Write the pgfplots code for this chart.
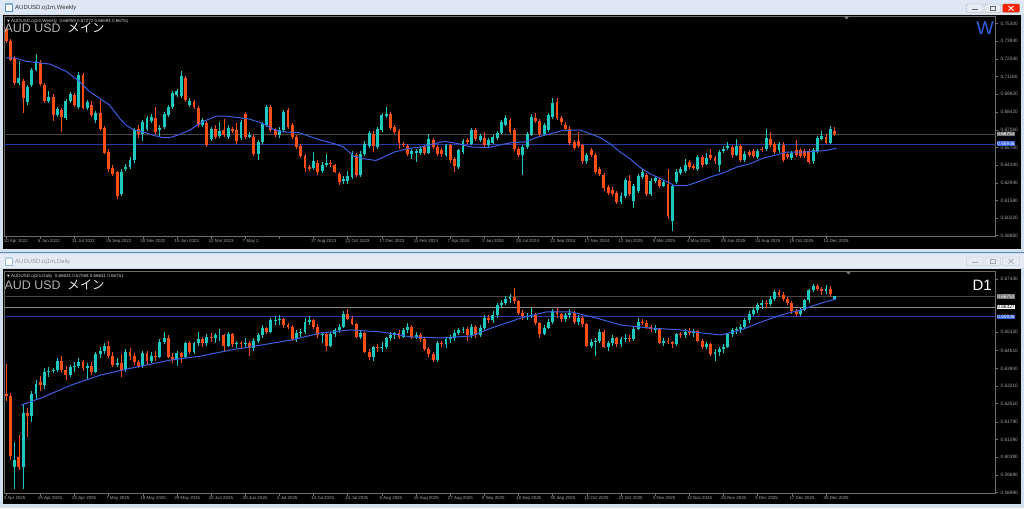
\documentclass[border=0pt]{standalone}
\usepackage{pgfplots}
\pgfplotsset{compat=1.18}
\usepackage{pgfplotstable}
\usepackage{fontspec}
\setmainfont{Liberation Sans}
\newfontfamily\jp{Noto Sans CJK JP}
\newfontfamily\dv{DejaVu Sans}
\definecolor{bull}{RGB}{30,200,190}
\definecolor{bear}{RGB}{250,78,22}
\definecolor{maline}{RGB}{60,95,225}
\definecolor{chrome}{RGB}{212,223,236}
\definecolor{titleA}{RGB}{222,232,245}
\definecolor{titleB}{RGB}{228,235,244}
\definecolor{sepblue}{RGB}{80,140,190}
\definecolor{framegray}{RGB}{110,110,110}
\definecolor{labgray}{RGB}{165,165,165}
\definecolor{hgray}{RGB}{70,70,70}
\definecolor{hblue}{RGB}{40,60,165}
\definecolor{boxblue}{RGB}{50,95,220}

\pgfplotstableread{
i o h l c
0 0.7483 0.7500 0.7380 0.7392
1 0.7397 0.7410 0.7236 0.7249
2 0.7262 0.7275 0.7050 0.7067
3 0.7067 0.7236 0.7054 0.7106
4 0.7080 0.7100 0.6833 0.6950
5 0.6919 0.7055 0.6900 0.7041
6 0.7054 0.7185 0.7040 0.7171
7 0.7171 0.7293 0.7160 0.7236
8 0.7223 0.7250 0.7045 0.7059
9 0.7054 0.7065 0.6915 0.6929
10 0.6929 0.7007 0.6915 0.6963
11 0.6963 0.6980 0.6773 0.6820
12 0.6820 0.6880 0.6805 0.6864
13 0.6859 0.6875 0.6690 0.6807
14 0.6794 0.6945 0.6780 0.6929
15 0.6929 0.7000 0.6915 0.6981
16 0.6976 0.6990 0.6885 0.6898
17 0.6885 0.7150 0.6870 0.7132
18 0.7132 0.7145 0.6865 0.6877
19 0.6872 0.6935 0.6860 0.6919
20 0.6898 0.6930 0.6805 0.6820
21 0.6781 0.6850 0.6760 0.6833
22 0.6838 0.6937 0.6700 0.6716
23 0.6721 0.6735 0.6515 0.6529
24 0.6534 0.6560 0.6380 0.6399
25 0.6409 0.6430 0.6350 0.6365
26 0.6378 0.6390 0.6170 0.6196
27 0.6209 0.6400 0.6195 0.6378
28 0.6399 0.6440 0.6385 0.6417
29 0.6417 0.6495 0.6400 0.6469
30 0.6469 0.6720 0.6450 0.6703
31 0.6716 0.6740 0.6640 0.6672
32 0.6672 0.6780 0.6620 0.6763
33 0.6716 0.6815 0.6700 0.6799
34 0.6773 0.6830 0.6760 0.6807
35 0.6799 0.6880 0.6675 0.6690
36 0.6703 0.6740 0.6660 0.6721
37 0.6729 0.6840 0.6715 0.6825
38 0.6820 0.6900 0.6805 0.6885
39 0.6885 0.7005 0.6870 0.6989
40 0.6976 0.7020 0.6960 0.7007
41 0.6968 0.7158 0.6955 0.7119
42 0.7106 0.7120 0.6920 0.6937
43 0.6898 0.6950 0.6885 0.6929
44 0.6924 0.6940 0.6870 0.6885
45 0.6872 0.6890 0.6725 0.6742
46 0.6742 0.6800 0.6730 0.6781
47 0.6755 0.6775 0.6575 0.6591
48 0.6638 0.6730 0.6620 0.6711
49 0.6716 0.6740 0.6635 0.6651
50 0.6659 0.6770 0.6645 0.6695
51 0.6703 0.6790 0.6650 0.6664
52 0.6651 0.6740 0.6635 0.6721
53 0.6711 0.6730 0.6680 0.6695
54 0.6703 0.6760 0.6600 0.6617
55 0.6643 0.6780 0.6630 0.6763
56 0.6825 0.6840 0.6635 0.6651
57 0.6651 0.6690 0.6640 0.6664
58 0.6651 0.6665 0.6505 0.6521
59 0.6521 0.6630 0.6469 0.6612
60 0.6612 0.6770 0.6600 0.6752
61 0.6742 0.6900 0.6730 0.6885
62 0.6885 0.6900 0.6690 0.6703
63 0.6703 0.6720 0.6650 0.6669
64 0.6669 0.6725 0.6640 0.6708
65 0.6703 0.6860 0.6690 0.6846
66 0.6859 0.6875 0.6715 0.6729
67 0.6742 0.6760 0.6635 0.6651
68 0.6651 0.6665 0.6555 0.6573
69 0.6581 0.6600 0.6490 0.6503
70 0.6503 0.6520 0.6378 0.6409
71 0.6417 0.6430 0.6390 0.6404
72 0.6409 0.6534 0.6395 0.6461
73 0.6451 0.6470 0.6360 0.6378
74 0.6391 0.6460 0.6375 0.6435
75 0.6435 0.6520 0.6420 0.6451
76 0.6448 0.6470 0.6420 0.6443
77 0.6430 0.6445 0.6370 0.6383
78 0.6365 0.6380 0.6280 0.6300
79 0.6308 0.6345 0.6290 0.6326
80 0.6313 0.6391 0.6290 0.6347
81 0.6339 0.6540 0.6325 0.6521
82 0.6513 0.6530 0.6340 0.6357
83 0.6357 0.6540 0.6340 0.6521
84 0.6521 0.6620 0.6505 0.6599
85 0.6581 0.6700 0.6565 0.6685
86 0.6677 0.6695 0.6534 0.6578
87 0.6573 0.6730 0.6560 0.6716
88 0.6703 0.6835 0.6690 0.6820
89 0.6815 0.6885 0.6800 0.6825
90 0.6825 0.6840 0.6705 0.6721
91 0.6729 0.6745 0.6675 0.6690
92 0.6695 0.6710 0.6560 0.6604
93 0.6599 0.6615 0.6570 0.6586
94 0.6581 0.6600 0.6505 0.6521
95 0.6521 0.6560 0.6482 0.6539
96 0.6529 0.6560 0.6456 0.6539
97 0.6529 0.6580 0.6510 0.6560
98 0.6573 0.6590 0.6510 0.6529
99 0.6529 0.6677 0.6515 0.6633
100 0.6625 0.6640 0.6555 0.6573
101 0.6573 0.6590 0.6505 0.6521
102 0.6547 0.6565 0.6495 0.6521
103 0.6513 0.6600 0.6495 0.6586
104 0.6586 0.6600 0.6450 0.6469
105 0.6477 0.6495 0.6378 0.6425
106 0.6417 0.6560 0.6400 0.6547
107 0.6534 0.6635 0.6520 0.6617
108 0.6625 0.6645 0.6595 0.6612
109 0.6599 0.6720 0.6585 0.6703
110 0.6703 0.6720 0.6620 0.6638
111 0.6625 0.6675 0.6610 0.6659
112 0.6643 0.6690 0.6575 0.6591
113 0.6591 0.6640 0.6575 0.6625
114 0.6607 0.6665 0.6595 0.6651
115 0.6643 0.6700 0.6630 0.6685
116 0.6685 0.6780 0.6670 0.6763
117 0.6747 0.6820 0.6735 0.6794
118 0.6781 0.6800 0.6675 0.6690
119 0.6703 0.6720 0.6540 0.6555
120 0.6560 0.6575 0.6495 0.6513
121 0.6508 0.6590 0.6357 0.6573
122 0.6573 0.6690 0.6560 0.6677
123 0.6669 0.6825 0.6655 0.6807
124 0.6794 0.6833 0.6760 0.6773
125 0.6773 0.6790 0.6660 0.6677
126 0.6677 0.6760 0.6660 0.6742
127 0.6703 0.6835 0.6690 0.6820
128 0.6807 0.6950 0.6790 0.6911
129 0.6919 0.6955 0.6780 0.6794
130 0.6794 0.6810 0.6745 0.6763
131 0.6747 0.6765 0.6700 0.6716
132 0.6716 0.6735 0.6590 0.6607
133 0.6612 0.6630 0.6550 0.6565
134 0.6617 0.6690 0.6565 0.6581
135 0.6586 0.6600 0.6445 0.6461
136 0.6461 0.6525 0.6445 0.6508
137 0.6547 0.6565 0.6495 0.6513
138 0.6513 0.6530 0.6365 0.6383
139 0.6399 0.6415 0.6350 0.6365
140 0.6357 0.6375 0.6235 0.6253
141 0.6261 0.6280 0.6200 0.6214
142 0.6243 0.6260 0.6190 0.6209
143 0.6217 0.6235 0.6130 0.6149
144 0.6144 0.6215 0.6130 0.6196
145 0.6196 0.6335 0.6180 0.6321
146 0.6313 0.6357 0.6195 0.6209
147 0.6157 0.6290 0.6097 0.6274
148 0.6235 0.6365 0.6220 0.6352
149 0.6339 0.6400 0.6325 0.6378
150 0.6357 0.6375 0.6195 0.6209
151 0.6209 0.6330 0.6195 0.6313
152 0.6308 0.6345 0.6295 0.6331
153 0.6321 0.6335 0.6255 0.6269
154 0.6274 0.6320 0.6260 0.6300
155 0.6287 0.6399 0.6014 0.6040
156 0.6001 0.6290 0.5923 0.6274
157 0.6305 0.6400 0.6290 0.6383
158 0.6373 0.6415 0.6360 0.6399
159 0.6391 0.6482 0.6375 0.6435
160 0.6456 0.6470 0.6400 0.6417
161 0.6425 0.6440 0.6395 0.6409
162 0.6404 0.6510 0.6390 0.6495
163 0.6495 0.6510 0.6420 0.6435
164 0.6443 0.6530 0.6430 0.6487
165 0.6508 0.6560 0.6470 0.6487
166 0.6487 0.6505 0.6445 0.6461
167 0.6430 0.6550 0.6378 0.6534
168 0.6539 0.6580 0.6525 0.6560
169 0.6565 0.6612 0.6550 0.6581
170 0.6573 0.6590 0.6490 0.6508
171 0.6513 0.6638 0.6500 0.6581
172 0.6581 0.6600 0.6455 0.6469
173 0.6469 0.6540 0.6455 0.6521
174 0.6534 0.6550 0.6495 0.6508
175 0.6539 0.6560 0.6490 0.6503
176 0.6495 0.6555 0.6480 0.6539
177 0.6560 0.6575 0.6535 0.6550
178 0.6555 0.6716 0.6540 0.6643
179 0.6638 0.6690 0.6575 0.6591
180 0.6599 0.6615 0.6520 0.6534
181 0.6547 0.6615 0.6530 0.6599
182 0.6591 0.6610 0.6455 0.6469
183 0.6521 0.6535 0.6480 0.6495
184 0.6487 0.6545 0.6470 0.6529
185 0.6547 0.6625 0.6495 0.6508
186 0.6547 0.6565 0.6490 0.6503
187 0.6539 0.6555 0.6490 0.6503
188 0.6539 0.6555 0.6440 0.6456
189 0.6461 0.6565 0.6445 0.6547
190 0.6539 0.6660 0.6525 0.6643
191 0.6638 0.6695 0.6625 0.6659
192 0.6651 0.6670 0.6595 0.6607
193 0.6607 0.6737 0.6595 0.6716
194 0.66959 0.67272 0.66594 0.66751
}\weekly

\pgfplotstableread{
i p
0 0.7262
2 0.7262
4.7 0.7236
6.8 0.7228
10.2 0.7215
14.1 0.7158
17.2 0.7080
19.5 0.7002
21.9 0.6950
24.2 0.6898
26.6 0.6794
28.1 0.6742
29.7 0.6708
32 0.6690
34.4 0.6664
36.7 0.6646
38.3 0.6646
40.6 0.6669
43 0.6703
45.3 0.6755
46.9 0.6781
49.2 0.6812
51.6 0.6812
54.7 0.6799
57 0.6789
59.4 0.6763
60.9 0.6742
62.5 0.6711
64.8 0.6690
68.4 0.6685
73 0.6633
76.8 0.6599
79 0.6573
81.4 0.6503
83.8 0.6482
86.6 0.6469
88.4 0.6495
90.9 0.6534
94 0.6560
97.3 0.6573
100.4 0.6599
102.7 0.6617
105.8 0.6599
108.9 0.6573
112.9 0.6568
116 0.6591
118.4 0.6607
121.5 0.6612
124.6 0.6651
127.7 0.6677
130 0.6698
132.4 0.6703
134.4 0.6703
136.7 0.6677
139.1 0.6646
141.4 0.6599
143.8 0.6534
146.1 0.6482
148.4 0.6417
150.8 0.6365
153.1 0.6331
155.5 0.6292
156.6 0.6274
159.4 0.6274
161.7 0.6300
164.8 0.6339
168 0.6373
171.1 0.6417
174.2 0.6443
177.3 0.6487
180.5 0.6513
182.8 0.6534
186.7 0.6534
189.8 0.6539
192.2 0.6547
194.5 0.6565
}\weeklyma

\pgfplotstableread{
i o h l c
0 0.6290 0.6408 0.6260 0.6282
1 0.6282 0.6292 0.6030 0.6042
2 0.6000 0.6100 0.5914 0.6030
3 0.6040 0.6125 0.5990 0.6000
4 0.6000 0.6250 0.5914 0.6215
5 0.6215 0.6235 0.6120 0.6200
6 0.6200 0.6300 0.6180 0.6290
7 0.6290 0.6345 0.6270 0.6330
8 0.6335 0.6360 0.6300 0.6325
9 0.6325 0.6390 0.6310 0.6375
10 0.6375 0.6395 0.6355 0.6380
11 0.6380 0.6392 0.6370 0.6385
12 0.6385 0.6430 0.6375 0.6420
13 0.6420 0.6440 0.6370 0.6385
14 0.6385 0.6400 0.6345 0.6365
15 0.6365 0.6405 0.6355 0.6395
16 0.6395 0.6415 0.6375 0.6400
17 0.6400 0.6430 0.6390 0.6415
18 0.6415 0.6425 0.6380 0.6390
19 0.6390 0.6410 0.6345 0.6400
20 0.6400 0.6415 0.6365 0.6375
21 0.6375 0.6455 0.6370 0.6445
22 0.6445 0.6475 0.6430 0.6460
23 0.6460 0.6490 0.6445 0.6480
24 0.6480 0.6500 0.6430 0.6440
25 0.6440 0.6455 0.6395 0.6405
26 0.6405 0.6430 0.6395 0.6410
27 0.6410 0.6445 0.6355 0.6385
28 0.6385 0.6465 0.6375 0.6455
29 0.6455 0.6470 0.6425 0.6440
30 0.6440 0.6450 0.6405 0.6415
31 0.6415 0.6425 0.6390 0.6400
32 0.6400 0.6460 0.6390 0.6450
33 0.6450 0.6460 0.6405 0.6420
34 0.6420 0.6455 0.6410 0.6440
35 0.6440 0.6460 0.6420 0.6435
36 0.6435 0.6505 0.6430 0.6495
37 0.6495 0.6535 0.6485 0.6510
38 0.6510 0.6520 0.6430 0.6435
39 0.6435 0.6450 0.6410 0.6425
40 0.6425 0.6460 0.6400 0.6450
41 0.6450 0.6455 0.6410 0.6435
42 0.6435 0.6495 0.6430 0.6490
43 0.6490 0.6500 0.6445 0.6455
44 0.6455 0.6495 0.6445 0.6490
45 0.6490 0.6535 0.6480 0.6505
46 0.6505 0.6515 0.6475 0.6490
47 0.6490 0.6525 0.6480 0.6515
48 0.6515 0.6530 0.6495 0.6510
49 0.6510 0.6530 0.6490 0.6520
50 0.6520 0.6545 0.6500 0.6520
51 0.6520 0.6525 0.6460 0.6480
52 0.6480 0.6535 0.6475 0.6525
53 0.6525 0.6530 0.6475 0.6485
54 0.6485 0.6500 0.6470 0.6490
55 0.6490 0.6500 0.6465 0.6485
56 0.6485 0.6510 0.6470 0.6490
57 0.6490 0.6500 0.6440 0.6470
58 0.6470 0.6510 0.6460 0.6500
59 0.6500 0.6530 0.6490 0.6520
60 0.6520 0.6560 0.6510 0.6550
61 0.6550 0.6555 0.6525 0.6535
62 0.6535 0.6590 0.6530 0.6580
63 0.6580 0.6595 0.6560 0.6582
64 0.6582 0.6600 0.6560 0.6585
65 0.6585 0.6590 0.6550 0.6560
66 0.6560 0.6570 0.6545 0.6555
67 0.6555 0.6560 0.6500 0.6505
68 0.6505 0.6540 0.6495 0.6530
69 0.6530 0.6545 0.6515 0.6532
70 0.6532 0.6590 0.6525 0.6575
71 0.6575 0.6595 0.6560 0.6580
72 0.6580 0.6585 0.6545 0.6555
73 0.6555 0.6565 0.6510 0.6520
74 0.6520 0.6535 0.6490 0.6525
75 0.6525 0.6530 0.6460 0.6480
76 0.6480 0.6535 0.6475 0.6525
77 0.6525 0.6550 0.6515 0.6540
78 0.6540 0.6565 0.6530 0.6555
79 0.6555 0.6615 0.6550 0.6605
80 0.6605 0.6625 0.6580 0.6585
81 0.6585 0.6595 0.6560 0.6565
82 0.6565 0.6570 0.6510 0.6515
83 0.6515 0.6540 0.6505 0.6530
84 0.6530 0.6535 0.6450 0.6455
85 0.6455 0.6465 0.6425 0.6435
86 0.6435 0.6480 0.6420 0.6475
87 0.6475 0.6485 0.6455 0.6470
88 0.6470 0.6495 0.6455 0.6475
89 0.6475 0.6515 0.6465 0.6510
90 0.6510 0.6535 0.6500 0.6520
91 0.6520 0.6535 0.6505 0.6530
92 0.6530 0.6540 0.6505 0.6515
93 0.6515 0.6550 0.6510 0.6540
94 0.6540 0.6570 0.6530 0.6555
95 0.6555 0.6560 0.6505 0.6515
96 0.6515 0.6535 0.6505 0.6520
97 0.6520 0.6530 0.6495 0.6505
98 0.6505 0.6510 0.6460 0.6465
99 0.6465 0.6475 0.6435 0.6445
100 0.6445 0.6455 0.6415 0.6425
101 0.6425 0.6500 0.6415 0.6490
102 0.6490 0.6500 0.6475 0.6485
103 0.6485 0.6515 0.6470 0.6505
104 0.6505 0.6520 0.6490 0.6510
105 0.6510 0.6540 0.6500 0.6530
106 0.6530 0.6550 0.6520 0.6540
107 0.6540 0.6555 0.6530 0.6545
108 0.6545 0.6555 0.6500 0.6520
109 0.6520 0.6565 0.6510 0.6555
110 0.6555 0.6560 0.6510 0.6520
111 0.6520 0.6560 0.6515 0.6550
112 0.6550 0.6600 0.6540 0.6590
113 0.6590 0.6600 0.6570 0.6580
114 0.6580 0.6615 0.6570 0.6600
115 0.6600 0.6650 0.6590 0.6640
116 0.6640 0.6660 0.6630 0.6650
117 0.6650 0.6675 0.6640 0.6665
118 0.6665 0.6685 0.6650 0.6670
119 0.6670 0.6707 0.6645 0.6655
120 0.6655 0.6660 0.6600 0.6610
121 0.6610 0.6620 0.6580 0.6595
122 0.6595 0.6610 0.6580 0.6598
123 0.6598 0.6630 0.6590 0.6600
124 0.6600 0.6610 0.6560 0.6570
125 0.6570 0.6575 0.6510 0.6525
126 0.6525 0.6560 0.6520 0.6550
127 0.6550 0.6585 0.6545 0.6575
128 0.6575 0.6625 0.6565 0.6615
129 0.6615 0.6630 0.6590 0.6605
130 0.6605 0.6610 0.6575 0.6585
131 0.6585 0.6610 0.6575 0.6600
132 0.6600 0.6625 0.6590 0.6610
133 0.6610 0.6615 0.6565 0.6575
134 0.6575 0.6600 0.6560 0.6590
135 0.6590 0.6595 0.6555 0.6565
136 0.6565 0.6570 0.6475 0.6480
137 0.6480 0.6505 0.6470 0.6495
138 0.6495 0.6510 0.6440 0.6497
139 0.6497 0.6545 0.6490 0.6535
140 0.6535 0.6540 0.6470 0.6475
141 0.6475 0.6500 0.6460 0.6490
142 0.6490 0.6520 0.6480 0.6510
143 0.6510 0.6515 0.6475 0.6485
144 0.6485 0.6515 0.6475 0.6505
145 0.6505 0.6525 0.6495 0.6510
146 0.6510 0.6520 0.6495 0.6505
147 0.6505 0.6555 0.6500 0.6545
148 0.6545 0.6590 0.6540 0.6575
149 0.6575 0.6585 0.6560 0.6570
150 0.6570 0.6580 0.6545 0.6555
151 0.6555 0.6560 0.6535 0.6545
152 0.6545 0.6560 0.6530 0.6547
153 0.6547 0.6550 0.6485 0.6490
154 0.6490 0.6510 0.6480 0.6500
155 0.6500 0.6510 0.6485 0.6495
156 0.6495 0.6500 0.6470 0.6485
157 0.6485 0.6530 0.6480 0.6525
158 0.6525 0.6535 0.6510 0.6520
159 0.6520 0.6545 0.6510 0.6535
160 0.6535 0.6550 0.6520 0.6530
161 0.6530 0.6545 0.6515 0.6537
162 0.6537 0.6540 0.6495 0.6500
163 0.6500 0.6505 0.6465 0.6475
164 0.6475 0.6495 0.6465 0.6485
165 0.6485 0.6490 0.6440 0.6445
166 0.6445 0.6465 0.6420 0.6455
167 0.6455 0.6475 0.6440 0.6465
168 0.6465 0.6485 0.6450 0.6475
169 0.6475 0.6530 0.6470 0.6525
170 0.6525 0.6550 0.6515 0.6540
171 0.6540 0.6555 0.6525 0.6545
172 0.6545 0.6565 0.6530 0.6555
173 0.6555 0.6590 0.6545 0.6580
174 0.6580 0.6615 0.6570 0.6605
175 0.6605 0.6630 0.6595 0.6620
176 0.6620 0.6650 0.6610 0.6640
177 0.6640 0.6660 0.6625 0.6650
178 0.6650 0.6660 0.6630 0.6645
179 0.6645 0.6675 0.6635 0.6665
180 0.6665 0.6700 0.6655 0.6690
181 0.6690 0.6700 0.6670 0.6680
182 0.6680 0.6690 0.6655 0.6665
183 0.6665 0.6670 0.6640 0.6650
184 0.6650 0.6655 0.6605 0.6615
185 0.6615 0.6625 0.6595 0.6605
186 0.6605 0.6630 0.6595 0.6620
187 0.6620 0.6665 0.6615 0.6660
188 0.6660 0.6705 0.6650 0.6700
189 0.6700 0.6725 0.6690 0.6715
190 0.6715 0.6725 0.6695 0.6705
191 0.6705 0.6712 0.6680 0.6695
192 0.6695 0.6720 0.6685 0.6705
193 0.6705 0.6715 0.6670 0.6683
194 0.66631 0.66768 0.66631 0.66751
}\daily

\pgfplotstableread{
i p
3.5 0.6245
8.2 0.6273
15.2 0.6324
22.2 0.6364
29.3 0.6391
38.6 0.6423
45.7 0.6439
52.7 0.6463
59.7 0.6482
66.7 0.6502
73.8 0.6530
80.8 0.6542
87.8 0.6534
94.8 0.6514
101.9 0.6510
108.9 0.6518
113.6 0.6549
120.6 0.6589
126.5 0.6613
132.3 0.6613
138.2 0.6589
144 0.6561
151 0.6549
158 0.6542
162.8 0.6530
167.4 0.6522
172.1 0.6542
176.8 0.6573
181.5 0.6601
186.2 0.6621
190.9 0.6648
194.5 0.6665
}\dailyma

\newcommand\candles[3]{%
\addplot[draw=none,mark=none,forget plot,error bars/.cd,y dir=plus,y explicit,error mark=none,
  error bar style={draw=bull,solid,line width=#3}]
  table[x=i,y expr={\thisrow{c}>=\thisrow{o} ? \thisrow{l} : nan},y error expr={\thisrow{h}-\thisrow{l}}]{#1};
\addplot[draw=none,mark=none,forget plot,error bars/.cd,y dir=plus,y explicit,error mark=none,
  error bar style={draw=bear,solid,line width=#3}]
  table[x=i,y expr={\thisrow{c}<\thisrow{o} ? \thisrow{l} : nan},y error expr={\thisrow{h}-\thisrow{l}}]{#1};
\addplot[draw=none,mark=none,forget plot,error bars/.cd,y dir=plus,y explicit,error mark=none,
  error bar style={draw=bull,solid,line width=#2}]
  table[x=i,y expr={\thisrow{c}>=\thisrow{o} ? \thisrow{o} : nan},y error expr={\thisrow{c}-\thisrow{o}}]{#1};
\addplot[draw=none,mark=none,forget plot,error bars/.cd,y dir=plus,y explicit,error mark=none,
  error bar style={draw=bear,solid,line width=#2}]
  table[x=i,y expr={\thisrow{c}<\thisrow{o} ? \thisrow{c} : nan},y error expr={\thisrow{o}-\thisrow{c}}]{#1};
}

\pgfplotsset{mtaxis/.style={
  scale only axis, width=991.5pt, anchor=north west,
  xmin=-0.5, xmax=231.7,
  axis line style={draw=framegray, line width=0.6pt},
  tick align=outside, major tick length=2.5pt,
  tick style={draw=framegray, line width=0.5pt},
  ytick pos=right, yticklabel pos=right, xtick pos=left,
  yticklabel style={font=\fontsize{4.8}{5}\selectfont, text=labgray, anchor=west, xshift=-1pt},
  xticklabel style={font=\fontsize{4.4}{5}\selectfont, text=labgray, anchor=west, xshift=-2.5pt, yshift=-2.5pt, text height=3.2pt, text depth=0.9pt, inner sep=0pt},
  xtick={0,8,...,192},
}}

\begin{document}
\begin{tikzpicture}
\begin{scope}[x=1pt,y=-1pt]
\useasboundingbox (0,0) rectangle (1024,508);
\fill[chrome] (0,0) rectangle (1024,508);
% top window
\fill[titleA] (0,0) rectangle (1024,14.5);
\fill[black] (3,15) rectangle (1021,249);
\fill[sepblue] (0,251.5) rectangle (1024,253);
\fill[titleB] (0,254) rectangle (1024,268);
\fill[black] (3,268.5) rectangle (1021,504);
% icons
\draw[fill=white,draw=sepblue,line width=0.5pt] (5,3) rectangle (12.5,11);
\fill[sepblue!70] (5,3) rectangle (12.5,5);
\draw[fill=white,draw=sepblue!60,line width=0.5pt] (5,257) rectangle (12.5,265);
\fill[sepblue!40] (5,257) rectangle (12.5,259);
\node[anchor=west,inner sep=0pt,font=\fontsize{6}{7}\selectfont,text=black!80] at (15,7.5) {AUDUSD.oj1m,Weekly};
\node[anchor=west,inner sep=0pt,font=\fontsize{6}{7}\selectfont,text=black!40] at (15,262) {AUDUSD.oj1m,Daily};
% buttons
\draw[fill=titleA!80!white,draw=black!35,rounded corners=1pt] (966.5,4) rectangle (983,12.5);
\draw[fill=titleA!80!white,draw=black!35,rounded corners=1pt] (985,4) rectangle (1000.5,12.5);
\draw[fill=red!75!orange,draw=black!45,rounded corners=1pt] (1002.5,4) rectangle (1019.5,12.5);
\draw[black!60,line width=0.8pt] (972,9.5)--(977.5,9.5);
\draw[black!60,line width=0.6pt] (990,6.5) rectangle (995.5,10.5);
\draw[white,line width=0.9pt] (1008.5,6)--(1013.5,10.5) (1008.5,10.5)--(1013.5,6);
\draw[fill=titleB,draw=black!25,rounded corners=1pt] (966.5,257) rectangle (983,265.5);
\draw[fill=titleB,draw=black!25,rounded corners=1pt] (985,257) rectangle (1000.5,265.5);
\draw[fill=titleB,draw=black!25,rounded corners=1pt] (1002.5,257) rectangle (1019.5,265.5);
\draw[black!35,line width=0.8pt] (972,262.5)--(977.5,262.5);
\draw[black!35,line width=0.6pt] (990,259.5) rectangle (995.5,263.5);
\draw[black!35,line width=0.7pt] (1008.5,259)--(1013.5,263.5) (1008.5,263.5)--(1013.5,259);
\end{scope}

% ===== weekly =====
\begin{axis}[mtaxis, at={(4pt,-16pt)}, height=220pt,
  ymin=0.5884, ymax=0.7587,
  ytick={0.5886,0.6022,0.6158,0.6294,0.6434,0.6570,0.6706,0.6842,0.6982,0.7118,0.7254,0.7394,0.7530},
  yticklabels={0.58860,0.60220,0.61580,0.62940,0.64340,0.65700,0.67060,0.68420,0.69820,0.71180,0.72540,0.73940,0.75300},
  xticklabels={10 Apr 2022,5 Jun 2022,31 Jul 2022,25 Sep 2022,20 Nov 2022,15 Jan 2023,12 Mar 2023,7 May 2,{},27 Aug 2023,22 Oct 2023,17 Dec 2023,11 Feb 2024,7 Apr 2024,2 Jun 2024,28 Jul 2024,22 Sep 2024,17 Nov 2024,12 Jan 2025,9 Mar 2025,4 May 2025,29 Jun 2025,24 Aug 2025,19 Oct 2025,14 Dec 2025},
]
\addplot[hgray,line width=0.6pt,forget plot] coordinates {(-0.5,0.66751) (231.7,0.66751)};
\addplot[hblue,line width=0.8pt,forget plot] coordinates {(-0.5,0.65936) (231.7,0.65936)};
\candles{\weekly}{2.9pt}{0.8pt}
\addplot[maline,line width=1pt] table[x=i,y=p]{\weeklyma};
\end{axis}

% ===== daily =====
\begin{axis}[mtaxis, at={(4pt,-271pt)}, height=222pt,
  ymin=0.58978, ymax=0.67746,
  ytick={0.5899,0.5969,0.6039,0.6109,0.6179,0.6251,0.6321,0.6390,0.6461,0.6533,0.6743},
  yticklabels={0.58990,0.59690,0.60390,0.61090,0.61790,0.62510,0.63210,0.63900,0.64610,0.65330,0.67430},
  xticklabels={3 Apr 2025,15 Apr 2025,25 Apr 2025,7 May 2025,19 May 2025,29 May 2025,10 Jun 2025,20 Jun 2025,2 Jul 2025,14 Jul 2025,24 Jul 2025,5 Aug 2025,15 Aug 2025,27 Aug 2025,8 Sep 2025,18 Sep 2025,30 Sep 2025,10 Oct 2025,22 Oct 2025,3 Nov 2025,13 Nov 2025,25 Nov 2025,5 Dec 2025,17 Dec 2025,30 Dec 2025},
]
\addplot[hgray,line width=0.6pt,forget plot] coordinates {(-0.5,0.66751) (231.7,0.66751)};
\addplot[black!45,line width=0.8pt,forget plot] coordinates {(-0.5,0.66327) (231.7,0.66327)};
\addplot[hblue,line width=0.8pt,forget plot] coordinates {(-0.5,0.65936) (231.7,0.65936)};
\candles{\daily}{2.9pt}{0.8pt}
\addplot[maline,line width=1pt] table[x=i,y=p]{\dailyma};
\end{axis}

\begin{scope}[x=1pt,y=-1pt]
% chart header texts
\node[anchor=west,inner sep=0pt,font=\fontsize{4.5}{5}\selectfont,text=white!80!black] at (7,21) {{\dv\fontsize{3.5}{4}\selectfont ▼}\ AUDUSD.oj1m,Weekly\ \ 0.66959 0.67272 0.66594 0.66751};
\node[anchor=west,inner sep=0pt,font=\fontsize{4.5}{5}\selectfont,text=white!80!black] at (7,276.5) {{\dv\fontsize{3.5}{4}\selectfont ▼}\ AUDUSD.oj1m,Daily\ \ 0.66631 0.67068 0.66631 0.66751};
\node[anchor=base west,inner sep=0pt,font=\fontsize{12.4}{13}\selectfont] at (4.5,33) {\textcolor{black!30}{AUD USD}\ \ \textcolor{white!92!black}{\jp メイン}};
\node[anchor=base west,inner sep=0pt,font=\fontsize{12.4}{13}\selectfont] at (4.5,289) {\textcolor{black!30}{AUD USD}\ \ \textcolor{white!92!black}{\jp メイン}};
\node[anchor=base east,inner sep=0pt,font=\fontsize{18.5}{19}\selectfont,text=boxblue] at (994,35) {W};
\node[anchor=base east,inner sep=0pt,font=\fontsize{15}{16}\selectfont,text=white] at (992,290) {D1};
% price boxes
\node[anchor=west,inner sep=0.6pt,fill=black!55,text=white,font=\fontsize{4.8}{5}\selectfont] at (996.5,134) {0.66751};
\node[anchor=west,inner sep=0.6pt,fill=boxblue,text=white,font=\fontsize{4.8}{5}\selectfont] at (996.5,143.5) {0.65936};
\node[anchor=west,inner sep=0.6pt,fill=black!55,text=white,font=\fontsize{4.8}{5}\selectfont] at (996.5,296.5) {0.66751};
\node[anchor=west,inner sep=0.6pt,fill=white,text=black,font=\fontsize{4.8}{5}\selectfont] at (996.5,307) {0.66327};
\node[anchor=west,inner sep=0.6pt,fill=boxblue,text=white,font=\fontsize{4.8}{5}\selectfont] at (996.5,317) {0.65936};
% shift markers
\fill[black!50] (844,16.5)--(849,16.5)--(846.5,19.5)--cycle;
\fill[black!50] (846,271.5)--(851,271.5)--(848.5,274.5)--cycle;
\end{scope}
\end{tikzpicture}
\end{document}
